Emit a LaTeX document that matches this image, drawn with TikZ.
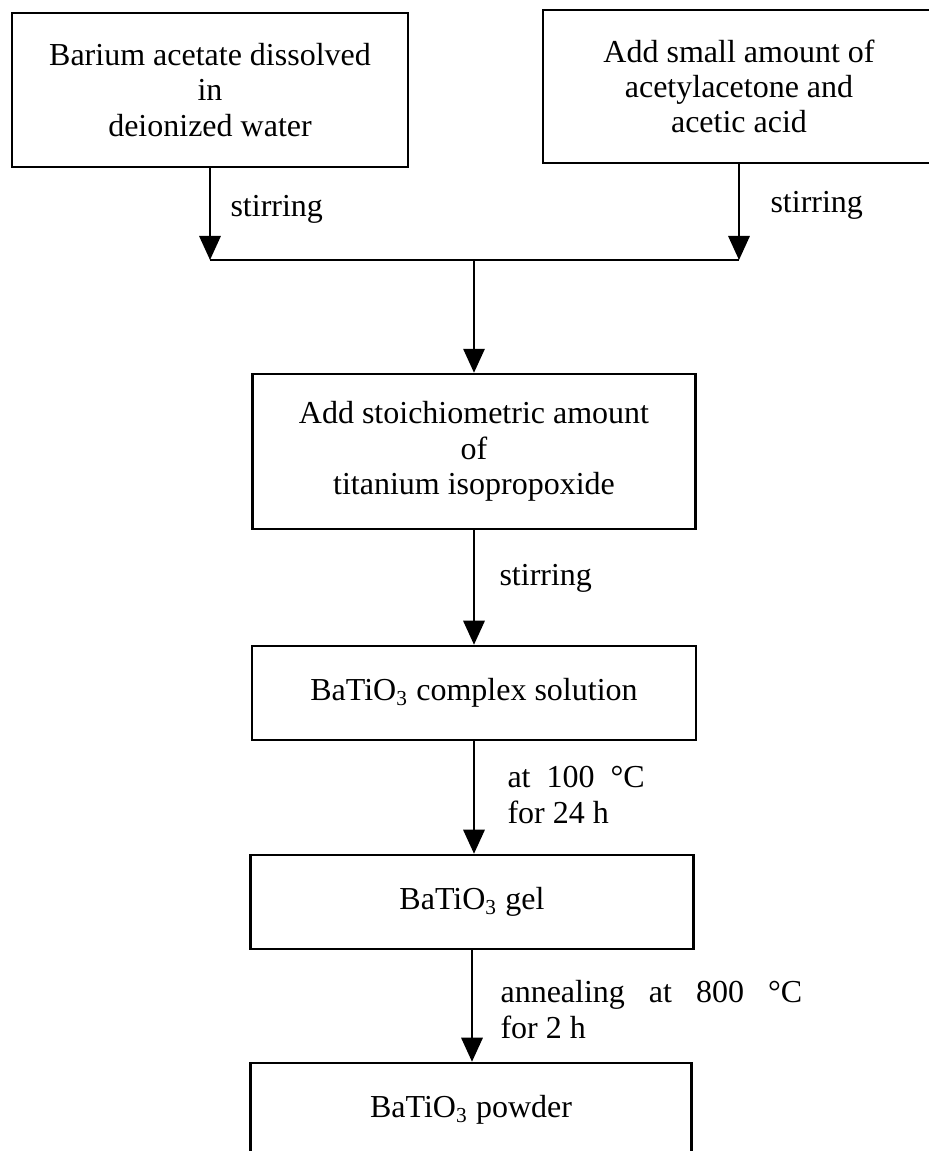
\documentclass[tikz,border=0pt]{standalone}
\usepackage{fontspec}
\setmainfont{Liberation Serif}
\usetikzlibrary{arrows.meta}

\begin{document}
\begin{tikzpicture}%
  [x=0.375pt,y=-0.375pt,font=\fontsize{12}{13.25}\selectfont]
  \tikzstyle{box node}=[rectangle,draw,line width=0.95pt,inner sep=0,align=center]
  \tikzstyle{lbl node}=[inner sep=0,align=left]
  \tikzstyle{flow}=[line width=0.8pt,-{Triangle[width=8pt,length=9pt]}]
  \useasboundingbox (0,0) rectangle (929,1151);
  % the two starting solutions
  \node(ba)[box node,minimum width=148.5pt,minimum height=57.75pt] at (210,90)
    {Barium acetate dissolved\\in\\deionized water};
  \node(acac)[box node,minimum width=147pt,minimum height=57.4pt] at (739,86.5)
    {Add small amount of\\acetylacetone and\\acetic acid};
  \coordinate(j1) at (210,260);
  \coordinate(j2) at (739,260);
  \coordinate(jm) at (474,260);
  % the steps
  \node(ti)[box node,minimum width=166.1pt,minimum height=58.1pt] at (474,451.5)
    {Add stoichiometric amount\\of\\titanium isopropoxide};
  \node(sol)[box node,minimum width=166.5pt,minimum height=35.25pt] at (474,693)
    {BaTiO\textsubscript{3} complex solution};
  \node(gel)[box node,minimum width=166.1pt,minimum height=35.25pt] at (472,902)
    {BaTiO\textsubscript{3} gel};
  \node(pow)[box node,minimum width=165.4pt,minimum height=35.25pt] at (471,1110)
    {BaTiO\textsubscript{3} powder};
  % connectors
  \draw[flow] (ba) -- (j1);
  \draw[flow] (acac) -- (j2);
  \draw[line width=0.8pt] (j1) -- (j2);
  \draw[flow] (jm) -- (jm |- ti.north);
  \draw[flow] (ti.south) -- (ti.south |- sol.north);
  \draw[flow] (sol.south) -- (sol.south |- gel.north);
  \draw[flow] (gel.south) -- (gel.south |- pow.north);
  % conditions
  \node(s1)[lbl node,anchor=base west] at (230,217) {stirring};
  \node(s2)[lbl node,anchor=base west] at (770,213) {stirring};
  \node(s3)[lbl node,anchor=base west] at (499,585) {stirring};
  \node(heat)[lbl node,anchor=north west] at (507,766)
    {at~~100~~°C\\for 24 h};
  \node(anneal)[lbl node,anchor=north west] at (500,980)
    {annealing~~~at~~~800~~~°C\\for 2 h};
\end{tikzpicture}
\end{document}
